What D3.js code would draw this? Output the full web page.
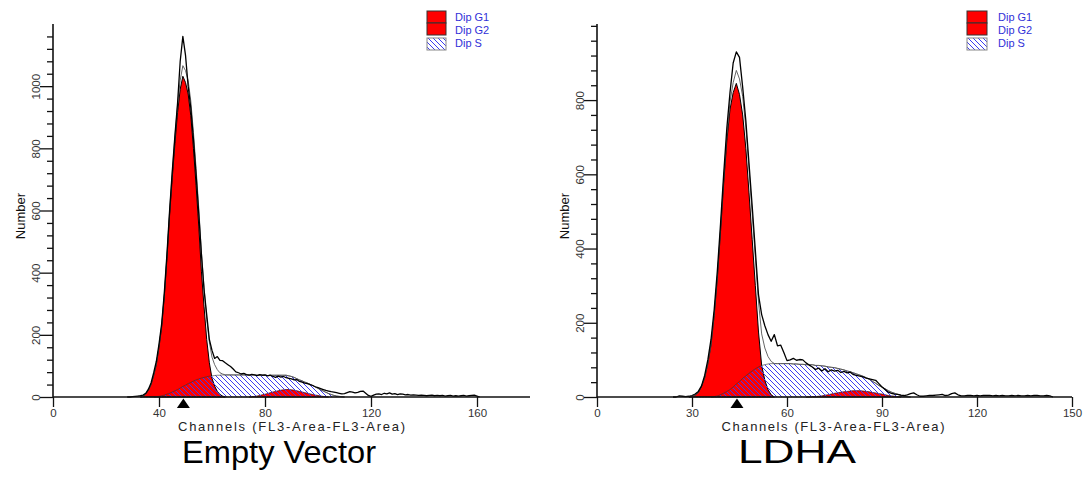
<!DOCTYPE html>
<html><head><meta charset="utf-8">
<script src="https://cdn.jsdelivr.net/npm/d3@7"></script>
<style>
html,body{margin:0;padding:0;background:#fff;}
svg{display:block;font-family:"Liberation Sans",Arial,sans-serif;}
</style></head>
<body>
<svg id="chart" width="1088" height="480"></svg>
<script>
// ---------------- DATA ----------------
const panelTitles = ["Empty Vector", "LDHA"];
const xAxisLabel = "Channels (FL3-Area-FL3-Area)";
const yAxisLabel = "Number";
const legendLabels = ["Dip G1", "Dip G2", "Dip S"];

// Tick values
const evXMajor = [0, 40, 80, 120, 160];
const evXMinorStep = 8;
const evYMajor = [0, 200, 400, 600, 800, 1000];
const evYMinorStep = 40;
const ldXMajor = [0, 30, 60, 90, 120, 150];
const ldXMinorStep = 6;
const ldYMajor = [0, 200, 400, 600, 800];
const ldYMinorStep = 40;

// Axis extents
const evXDomain = [0, 180];
const evYDomain = [0, 1200];
const ldXDomain = [0, 150];
const ldYDomain = [0, 1005];

// G1 mean markers (channel)
const evG1Mean = 49.2;
const ldG1Mean = 44.2;

// Empty Vector: components (values per channel, starting at *Start)
const evG1Start = 33;
const evG1 = [0,2,10,22,40,70,105,160,225,323,445,585,705,815,915,990,1032,1012,975,905,800,680,550,405,290,185,110,60,35,18,8,3,0];
const evSStart = 38;
const evS = [0,1,2,4,6,9,12,16,20,24,29,34,38,43,47,51,55,58,61,63,65,67,68,69,70,70,71,71,71,71,71,71,71,71,71,71,71,70,69,67,65,63,61,58,56,54,52,50,48,47,46,44,43,41,39,37,36,34,33,31,29,26,23,20,17,14,11,8,5,3,2,1,0];
const evG2Start = 74;
const evG2 = [0,1,2,3,5,7,9,11,14,16,18,20,22,23,24,24,23,22,20,18,16,14,12,10,8,6,5,3,2,1,0];
const evDataStart = 28;
const evData = [0,0,1,2,3,4,6,12,25,45,78,115,170,235,335,460,600,725,840,945,1080,1160,1100,1000,930,830,715,590,460,345,265,185,150,124,130,118,117,110,104,98,90,81,78,74,76,72,70,73,71,69,72,70,71,68,70,66,63,67,64,66,62,60,58,55,56,50,48,45,43,40,37,33,30,27,24,21,19,17,16,14,12,10,11,14,17,16,13,15,18,19,12,5,2,6,9,10,8,12,10,13,9,11,8,10,9,7,8,6,7,6,5,6,5,4,5,6,4,5,4,5,3,4,5,3,4,3,4,5,3,4,5,6,3,0];

// LDHA: components
const ldG1Start = 29;
const ldG1 = [0,1,5,12,28,52,90,140,220,320,445,575,690,775,820,845,815,760,670,550,425,300,175,85,45,20,6,0];
const ldSStart = 36;
const ldS = [0,1,3,6,10,15,20,27,35,42,50,57,64,70,76,81,85,87,89,90,90,90,90,90,90,90,89,89,88,88,87,87,86,84,83,81,78,75,72,69,66,62,59,55,52,48,45,42,40,37,34,30,26,22,19,16,13,10,8,6,4,2,1,0];
const ldG2Start = 66;
const ldG2 = [0,0,1,1,2,3,5,6,8,10,11,13,14,15,16,17,17,17,16,15,14,12,11,9,8,6,4,3,2,1,0];
const ldDataStart = 24;
const ldData = [0,0,3,2,1,2,4,8,15,30,58,100,155,235,340,465,600,725,820,900,930,915,835,745,630,515,395,275,222,192,168,150,168,138,140,120,98,100,104,99,101,100,92,86,81,74,78,70,76,68,73,70,72,66,69,65,67,60,58,56,54,51,49,47,45,36,27,20,13,10,8,7,5,4,6,9,11,6,2,2,3,4,4,5,6,7,4,5,9,11,6,3,3,4,4,3,4,3,4,4,4,3,4,3,4,3,3,4,3,4,3,3,4,3,4,4,3,3,4,3,0];

// ---------------- DRAWING ----------------
const svg = d3.select("#chart");
const defs = svg.append("defs");
const pat = defs.append("pattern").attr("id","hatch").attr("patternUnits","userSpaceOnUse")
  .attr("width",5).attr("height",5);
pat.append("path").attr("d","M-1,-1 L6,6 M-1,4 L1,6 M4,-1 L6,1")
  .attr("stroke","#3c3cf0").attr("stroke-width",1).attr("fill","none");

function toPts(start, vals){ return vals.map((v,i)=>({c:start+i, v:v})); }
function lookup(start, vals, c){ const i=c-start; return (i>=0 && i<vals.length)? vals[i] : 0; }

const panels = [
  {title: panelTitles[0], xd: evXDomain, yd: evYDomain, xr:[53,530], yr:[397,24],
   xMajor: evXMajor, xStep: evXMinorStep, yMajor: evYMajor, yStep: evYMinorStep,
   g1:[evG1Start,evG1], s:[evSStart,evS], g2:[evG2Start,evG2], data:[evDataStart,evData],
   mean: evG1Mean, legX: 427, legW: 19, legTX: 455, titleX: 279, titleSize: 32, titleW: 194, xLabelX: 291.5, xLabelW: 227},
  {title: panelTitles[1], xd: ldXDomain, yd: ldYDomain, xr:[597,1072], yr:[397,24],
   xMajor: ldXMajor, xStep: ldXMinorStep, yMajor: ldYMajor, yStep: ldYMinorStep,
   g1:[ldG1Start,ldG1], s:[ldSStart,ldS], g2:[ldG2Start,ldG2], data:[ldDataStart,ldData],
   mean: ldG1Mean, legX: 967, legW: 20, legTX: 998, titleX: 797, titleSize: 34, titleW: 118, xLabelX: 833, xLabelW: 223}
];

panels.forEach(p => {
  const g = svg.append("g");
  const x = d3.scaleLinear().domain(p.xd).range(p.xr);
  const y = d3.scaleLinear().domain(p.yd).range(p.yr);

  const area = d3.area().x(d=>x(d.c)).y0(y(0)).y1(d=>y(d.v));
  const line = d3.line().x(d=>x(d.c)).y(d=>y(d.v));

  // G2 red
  g.append("path").datum(toPts(...p.g2)).attr("d",area)
    .attr("fill","#ff0000").attr("stroke","#300").attr("stroke-width",0.7);
  // G1 red
  g.append("path").datum(toPts(...p.g1)).attr("d",area)
    .attr("fill","#ff0000").attr("stroke","#000").attr("stroke-width",1);
  // S hatch, stacked on G2
  const sPts = toPts(...p.s).map(d=>({c:d.c, v:d.v + lookup(p.g2[0], p.g2[1], d.c)}));
  g.append("path").datum(sPts).attr("d",area)
    .attr("fill","url(#hatch)").attr("stroke","#333").attr("stroke-width",0.6);

  // model fit = G1 + S + G2
  const c0 = Math.min(p.g1[0], p.s[0], p.g2[0]);
  const c1 = Math.max(p.g1[0]+p.g1[1].length, p.s[0]+p.s[1].length, p.g2[0]+p.g2[1].length) - 1;
  const fit = d3.range(c0, c1+1).map(c=>({c:c, v: lookup(...p.g1, c)+lookup(...p.s, c)+lookup(...p.g2, c)}));
  g.append("path").datum(fit).attr("d",line)
    .attr("fill","none").attr("stroke","#555").attr("stroke-width",0.9);

  // data histogram
  g.append("path").datum(toPts(...p.data)).attr("d",line)
    .attr("fill","none").attr("stroke","#000").attr("stroke-width",1.3).attr("stroke-linejoin","round");

  // X axis
  const xMinor = d3.range(p.xd[0], p.xd[1]+0.001, p.xStep).filter(v=>!p.xMajor.includes(v));
  const xa = g.append("g").attr("transform",`translate(0,${y(0)})`);
  xa.call(d3.axisBottom(x).tickValues(xMinor).tickSize(6).tickFormat(""));
  xa.call(d3.axisBottom(x).tickValues(p.xMajor).tickSize(10).tickPadding(1.5));
  xa.selectAll(".domain").remove();
  xa.selectAll("line").attr("stroke","#111").attr("stroke-width",1.3);
  xa.selectAll("text").attr("font-size",11.5).attr("fill","#333")
    .attr("font-family","Liberation Sans, Arial, sans-serif");
  g.append("line").attr("x1",p.xr[0]).attr("x2",p.xr[1]).attr("y1",y(0)).attr("y2",y(0))
    .attr("stroke","#111").attr("stroke-width",1.6);

  // Y axis
  const yMinor = d3.range(p.yd[0], p.yd[1], p.yStep).filter(v=>!p.yMajor.includes(v));
  const ya = g.append("g").attr("transform",`translate(${p.xr[0]},0)`);
  ya.call(d3.axisLeft(y).tickValues(yMinor).tickSize(6).tickFormat(""));
  const yb = g.append("g").attr("transform",`translate(${p.xr[0]},0)`);
  yb.call(d3.axisLeft(y).tickValues(p.yMajor).tickSize(13).tickFormat(d3.format("d")));
  ya.selectAll(".domain").remove(); yb.selectAll(".domain").remove();
  ya.selectAll("line").attr("stroke","#111").attr("stroke-width",1.3);
  yb.selectAll("line").attr("stroke","#111").attr("stroke-width",1.3);
  yb.selectAll("text").attr("x",null).attr("dy",null)
    .attr("text-anchor","middle").attr("transform","translate(-13.5,0) rotate(-90)")
    .attr("font-size",11.5).attr("fill","#333")
    .attr("font-family","Liberation Sans, Arial, sans-serif");
  g.append("line").attr("x1",p.xr[0]).attr("x2",p.xr[0]).attr("y1",y(0)).attr("y2",p.yr[1])
    .attr("stroke","#111").attr("stroke-width",1.6);

  // G1 mean marker
  const mx = x(p.mean), my = y(0);
  g.append("path").attr("d",`M${mx},${my+1.5} L${mx+6.5},${my+11} L${mx-6.5},${my+11} Z`).attr("fill","#000");

  // axis labels
  g.append("text").attr("x",p.xLabelX).attr("y",430.5).attr("text-anchor","middle")
    .attr("font-size",13).attr("fill","#222")
    .attr("textLength",p.xLabelW).attr("lengthAdjust","spacing").text(xAxisLabel);
  g.append("text").attr("transform",`translate(${p.xr[0]-28},216) rotate(-90)`).attr("text-anchor","middle")
    .attr("font-size",13).attr("fill","#111").text(yAxisLabel);

  // title
  g.append("text").attr("x",p.titleX).attr("y",463).attr("text-anchor","middle")
    .attr("font-size",p.titleSize).attr("fill","#000")
    .attr("textLength",p.titleW).attr("lengthAdjust","spacingAndGlyphs").text(p.title);

  // legend
  const lg = g.append("g");
  const boxes = [{y:11,fill:"#ff0000",stroke:"#333"},{y:23,fill:"#ff0000",stroke:"#333"},{y:38,fill:"url(#hatch)",stroke:"#888"}];
  const ty = [20.5, 33.5, 47];
  legendLabels.forEach((lab,i)=>{
    lg.append("rect").attr("x",p.legX).attr("y",boxes[i].y).attr("width",p.legW).attr("height",12)
      .attr("fill",boxes[i].fill).attr("stroke",boxes[i].stroke).attr("stroke-width",1);
    lg.append("text").attr("x",p.legTX).attr("y",ty[i]).attr("font-size",11)
      .attr("fill","#3030d8").text(lab);
  });
});
</script>
</body></html>
